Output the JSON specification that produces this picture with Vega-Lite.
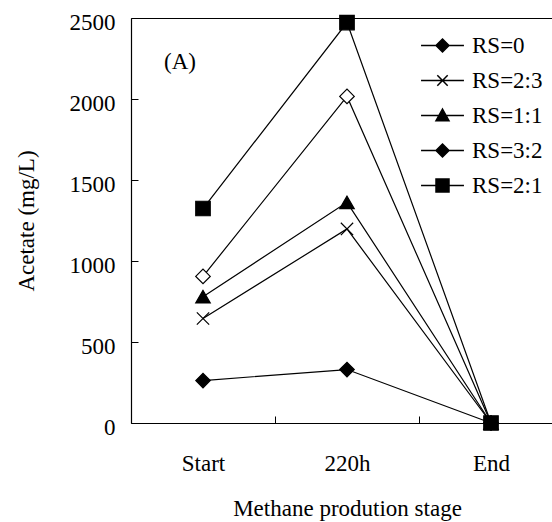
{
  "$schema": "https://vega.github.io/schema/vega-lite/v6.json",
  "width": 421,
  "height": 405,
  "autosize": {"type": "none"},
  "padding": {"left": 131, "top": 18, "right": 0, "bottom": 99},
  "background": "white",
  "config": {
    "view": {"stroke": null},
    "text": {"font": "Liberation Serif"},
    "legend": {"labelFont": "Liberation Serif"},
    "axis": {
      "labelFont": "Liberation Serif",
      "labelFontSize": 23,
      "labelColor": "black",
      "titleFont": "Liberation Serif",
      "titleFontSize": 23,
      "titleFontWeight": "normal",
      "titleColor": "black",
      "domainColor": "black",
      "domainWidth": 1.2,
      "tickColor": "black",
      "tickWidth": 1,
      "grid": false
    }
  },
  "data": {
    "values": [
      {"stage": "Start", "series": "RS=0", "value": 262},
      {"stage": "220h", "series": "RS=0", "value": 330},
      {"stage": "End", "series": "RS=0", "value": 0},
      {"stage": "Start", "series": "RS=2:3", "value": 645},
      {"stage": "220h", "series": "RS=2:3", "value": 1198},
      {"stage": "End", "series": "RS=2:3", "value": 0},
      {"stage": "Start", "series": "RS=1:1", "value": 780},
      {"stage": "220h", "series": "RS=1:1", "value": 1362},
      {"stage": "End", "series": "RS=1:1", "value": 0},
      {"stage": "Start", "series": "RS=3:2", "value": 905},
      {"stage": "220h", "series": "RS=3:2", "value": 2016},
      {"stage": "End", "series": "RS=3:2", "value": 0},
      {"stage": "Start", "series": "RS=2:1", "value": 1324},
      {"stage": "220h", "series": "RS=2:1", "value": 2472},
      {"stage": "End", "series": "RS=2:1", "value": 0}
    ]
  },
  "layer": [
    {
      "mark": {"type": "line", "color": "black", "strokeWidth": 1.2},
      "encoding": {
        "x": {
          "field": "stage", "type": "nominal", "sort": ["Start", "220h", "End"],
          "scale": {"type": "band", "paddingInner": 0, "paddingOuter": 0, "range": [0, 432]},
          "axis": {"orient": "bottom", "title": "Methane prodution stage", "tickBand": "extent", "labelAngle": 0, "tickSize": -7, "labelPadding": 36, "titlePadding": 22}
        },
        "y": {
          "field": "value", "type": "quantitative",
          "scale": {"domain": [0, 2500], "nice": false},
          "axis": {"title": "Acetate (mg/L)", "values": [0, 500, 1000, 1500, 2000, 2500], "format": "d", "tickSize": -7, "labelPadding": 23, "labelOffset": 4, "titlePadding": 31}
        },
        "detail": {"field": "series"}
      }
    },
    {
      "mark": {"type": "point", "filled": true, "size": 210, "stroke": "black", "strokeWidth": 1.2, "opacity": 1},
      "encoding": {
        "x": {"field": "stage", "type": "nominal", "sort": ["Start", "220h", "End"],
          "axis": {"orient": "top", "labels": false, "ticks": false, "title": null, "domain": true}},
        "y": {"field": "value", "type": "quantitative"},
        "shape": {"field": "series", "type": "nominal",
          "scale": {"domain": ["RS=0", "RS=2:3", "RS=1:1", "RS=3:2", "RS=2:1"],
            "range": ["diamond", "M-0.85,-0.85L0.85,0.85M0.85,-0.85L-0.85,0.85", "triangle-up", "diamond", "square"]},
          "legend": null},
        "fill": {"field": "series", "type": "nominal",
          "scale": {"domain": ["RS=0", "RS=2:3", "RS=1:1", "RS=3:2", "RS=2:1"],
            "range": ["black", "black", "black", "white", "black"]},
          "legend": null}
      }
    },
    {
      "transform": [{"filter": "false"}],
      "mark": {"type": "point", "filled": true, "color": "black", "stroke": "black", "strokeWidth": 1.2, "opacity": 1},
      "encoding": {
        "x": {"field": "stage", "type": "nominal", "sort": ["Start", "220h", "End"], "axis": null},
        "y": {"field": "value", "type": "quantitative"},
        "shape": {"field": "series", "type": "nominal",
          "scale": {"domain": ["RS=0", "RS=2:3", "RS=1:1", "RS=3:2", "RS=2:1"],
            "range": [
              "M-3.3,0H3.3M0,-1L1,0L0,1L-1,0Z",
              "M-3.3,0H3.3M-0.8,-0.8L0.8,0.8M0.8,-0.8L-0.8,0.8",
              "M-3.3,0H3.3M0,-1L1,0.8L-1,0.8Z",
              "M-3.3,0H-1M1,0H3.3M0,-1L1,0L0,1L-1,0Z",
              "M-3.3,0H3.3M-1,-1H1V1H-1Z"
            ]},
          "legend": {"title": null, "orient": "none", "legendX": 300, "legendY": 16, "symbolSize": 169, "labelFont": "Liberation Serif", "labelFontSize": 23, "labelColor": "black", "labelOffset": 18, "rowPadding": 11, "padding": 0,
            "encode": {
              "symbols": {"update": {"stroke": {"value": "black"}, "strokeWidth": {"value": 1.2}, "fill": {"signal": "datum.value === 'RS=3:2' ? 'white' : 'black'"}}},
              "labels": {"enter": {"font": {"value": "Liberation Serif"}}, "update": {"font": {"value": "Liberation Serif"}}}
            }}}
      }
    },
    {
      "data": {"values": [{"label": "(A)", "stage": "Start", "value": 2230}]},
      "mark": {"type": "text", "font": "Liberation Serif", "fontSize": 23, "color": "black", "dx": -23, "baseline": "middle", "align": "center"},
      "encoding": {
        "x": {"field": "stage", "type": "nominal", "sort": ["Start", "220h", "End"], "axis": null},
        "y": {"field": "value", "type": "quantitative"},
        "text": {"field": "label"}
      }
    }
  ],
  "resolve": {
    "scale": {"shape": "independent", "fill": "independent"},
    "axis": {"x": "independent"}
  }
}
